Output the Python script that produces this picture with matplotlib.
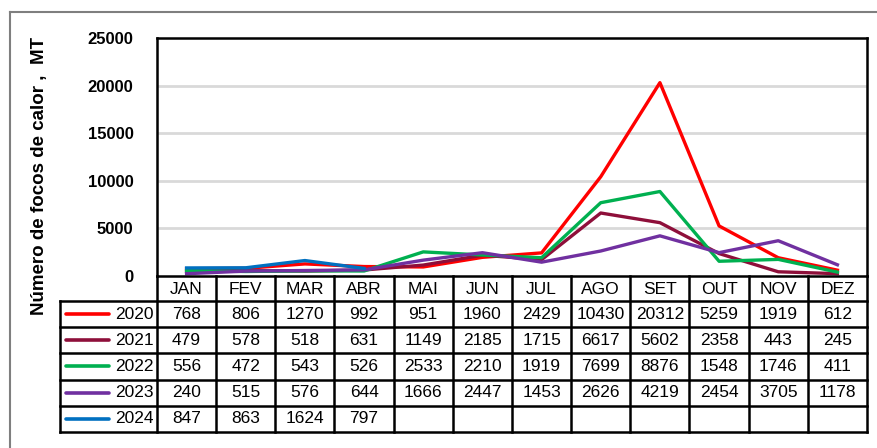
import matplotlib
matplotlib.use("Agg")
import matplotlib.pyplot as plt
from matplotlib.lines import Line2D

plt.rcParams['font.family'] = ['Liberation Sans', 'DejaVu Sans']

months = ['JAN', 'FEV', 'MAR', 'ABR', 'MAI', 'JUN', 'JUL', 'AGO', 'SET', 'OUT', 'NOV', 'DEZ']
years = ['2020', '2021', '2022', '2023', '2024']
v2020 = [768, 806, 1270, 992, 951, 1960, 2429, 10430, 20312, 5259, 1919, 612]
v2021 = [479, 578, 518, 631, 1149, 2185, 1715, 6617, 5602, 2358, 443, 245]
v2022 = [556, 472, 543, 526, 2533, 2210, 1919, 7699, 8876, 1548, 1746, 411]
v2023 = [240, 515, 576, 644, 1666, 2447, 1453, 2626, 4219, 2454, 3705, 1178]
v2024 = [847, 863, 1624, 797]
colors = ['#FF0000', '#8E0F3A', '#00B050', '#7030A0', '#0070C0']
series = [v2020, v2021, v2022, v2023, v2024]

W, H = 877, 448
fig = plt.figure(figsize=(W / 100, H / 100), dpi=100)


def box(x0, y0, x1, y1):
    # pixel box (top-left origin) -> figure fraction
    return [x0 / W, 1 - y1 / H, (x1 - x0) / W, (y1 - y0) / H]


# outer border (only top and left are visible)
fig.add_artist(Line2D([10 / W, 10 / W], [0, 1 - 12 / H], color='#7F7F7F', lw=1.5))
fig.add_artist(Line2D([10 / W, 1], [1 - 12 / H, 1 - 12 / H], color='#7F7F7F', lw=1.5))

# main chart
ax = fig.add_axes(box(157, 38, 867, 276))
for vals, c in zip(series, colors):
    ax.plot(range(len(vals)), vals, color=c, lw=2.4, solid_joinstyle='round')
ax.set_xlim(-0.5, 11.5)
ax.set_ylim(0, 25000)
ax.set_yticks([0, 5000, 10000, 15000, 20000, 25000])
ax.set_yticklabels(['0', '5000', '10000', '15000', '20000', '25000'],
                   fontsize=12, fontweight='bold')
ax.tick_params(axis='y', length=0, pad=17)
ax.set_xticks([])
for y in [5000, 10000, 15000, 20000]:
    ax.axhline(y, color='#D9D9D9', lw=2, zorder=0)
for s in ax.spines.values():
    s.set_linewidth(1.8)

fig.text(40 / W, 1 - 176 / H, 'Número de focos de calor ,  MT', rotation=90,
         ha='center', va='center', fontsize=13.5, fontweight='bold')

# data table below the chart
tx = fig.add_axes(box(60, 276, 867, 432))
tx.axis('off')
left = -0.5 - 97 / 59.17
hdr = 0.95
nrow = len(years)
tx.set_xlim(left, 11.5)
tx.set_ylim(hdr + nrow, 0)
lw = 1.8
for i in range(13):
    tx.plot([i - 0.5, i - 0.5], [0, hdr + nrow], color='black', lw=lw, clip_on=False)
tx.plot([left, left], [hdr, hdr + nrow], color='black', lw=lw, clip_on=False)
for r in range(nrow + 1):
    tx.plot([left, 11.5], [hdr + r, hdr + r], color='black', lw=lw, clip_on=False)
for i, m in enumerate(months):
    tx.text(i, hdr / 2 + 0.05, m, ha='center', va='center', fontsize=12.5)
for r, (yr, vals, c) in enumerate(zip(years, series, colors)):
    yc = hdr + r + 0.5
    tx.plot([left + 0.1, left + 0.83], [yc, yc], color=c, lw=2.6,
            solid_capstyle='round', clip_on=False)
    tx.text(-0.56, yc, yr, ha='right', va='center', fontsize=12.5)
    for i, v in enumerate(vals):
        tx.text(i, yc, str(v), ha='center', va='center', fontsize=12.5)

fig.savefig('out.png', dpi=100, facecolor='white')
